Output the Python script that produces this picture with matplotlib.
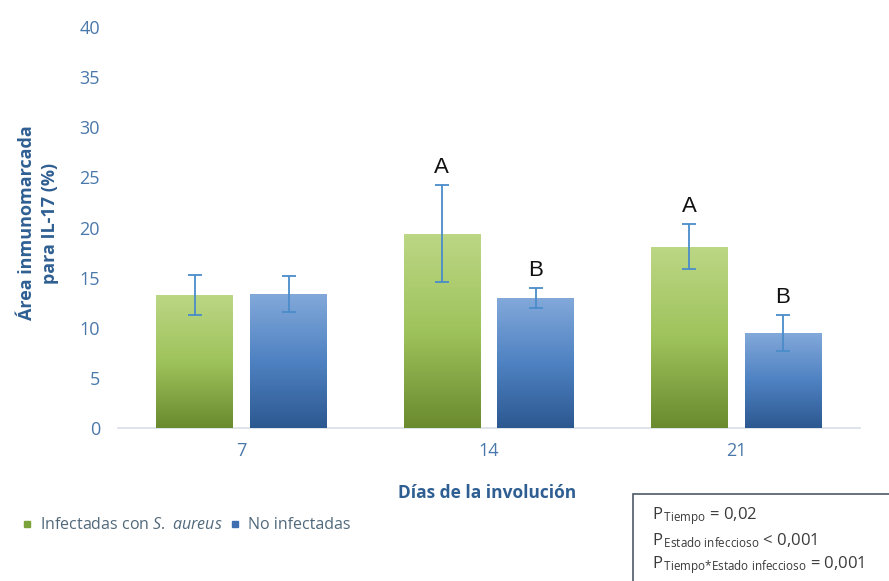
import numpy as np
import matplotlib
matplotlib.use("Agg")
import matplotlib.pyplot as plt
from matplotlib.colors import LinearSegmentedColormap
from matplotlib.lines import Line2D
from matplotlib.patches import Rectangle

plt.rcParams['font.family'] = ['Open Sans', 'DejaVu Sans']
plt.rcParams['mathtext.fontset'] = 'custom'
plt.rcParams['mathtext.rm'] = 'Open Sans'
plt.rcParams['mathtext.it'] = 'Open Sans:italic'

# data
days = ["7", "14", "21"]
infectadas = [13.3, 19.4, 18.1]
infectadas_err = [2.0, 4.8, 2.25]
no_infectadas = [13.4, 13.0, 9.5]
no_infectadas_err = [1.8, 1.0, 1.8]
letters_inf = ["", "A", "A"]
letters_no = ["", "B", "B"]

axis_blue = "#4a78ab"
title_blue = "#2f5f92"

fig = plt.figure(figsize=(8.89, 5.81), dpi=100)
ax = fig.add_axes([0.1327, 0.2633, 0.8343, 0.6902])

x = np.arange(len(days))
w = 0.31
off = 0.19

green_cmap = LinearSegmentedColormap.from_list("g", ["#6a8a2e", "#9fc35c", "#bcd785"])
blue_cmap = LinearSegmentedColormap.from_list("b", ["#2c5890", "#4f82c2", "#83a9da"])

bars_inf = ax.bar(x - off, infectadas, w, color="#9fc35c", zorder=2)
bars_no = ax.bar(x + off, no_infectadas, w, color="#4f82c2", zorder=2)

# vertical gradient inside each bar
grad = np.linspace(0, 1, 256).reshape(-1, 1)
for bars, cmap in [(bars_inf, green_cmap), (bars_no, blue_cmap)]:
    for b in bars:
        x0, y0 = b.get_x(), b.get_y()
        x1, y1 = x0 + b.get_width(), y0 + b.get_height()
        im = ax.imshow(grad, cmap=cmap, origin="lower", aspect="auto",
                       extent=[x0, x1, y0, y1], zorder=3)
        im.set_clip_path(b)

ax.errorbar(x - off, infectadas, yerr=infectadas_err, fmt="none",
            ecolor="#4a8cc9", elinewidth=1.3, capsize=5, capthick=1.3, zorder=4)
ax.errorbar(x + off, no_infectadas, yerr=no_infectadas_err, fmt="none",
            ecolor="#4a8cc9", elinewidth=1.3, capsize=5, capthick=1.3, zorder=4)

for i in range(len(days)):
    if letters_inf[i]:
        ax.text(x[i] - off, infectadas[i] + infectadas_err[i] + 0.7, letters_inf[i],
                ha="center", va="bottom", fontsize=16, family="Liberation Sans", color="#111111")
    if letters_no[i]:
        ax.text(x[i] + off, no_infectadas[i] + no_infectadas_err[i] + 0.7, letters_no[i],
                ha="center", va="bottom", fontsize=16, family="Liberation Sans", color="#111111")

ax.set_xlim(-0.5, 2.5)
ax.set_ylim(0, 40)
ax.set_yticks(range(0, 41, 5))
ax.set_xticks(x)
ax.set_xticklabels(days)
ax.tick_params(axis="both", length=0, labelsize=13, labelcolor=axis_blue)
ax.tick_params(axis="y", pad=13)
ax.tick_params(axis="x", pad=10)
for s in ["top", "right", "left"]:
    ax.spines[s].set_visible(False)
ax.spines["bottom"].set_color("#d9dfe8")
ax.spines["bottom"].set_linewidth(1.2)

fig.text(0.043, 0.616, "Área inmunomarcada\npara IL-17 (%)", rotation=90,
         ha="center", va="center", fontsize=13, fontweight="bold",
         color=title_blue, linespacing=1.35)
fig.text(0.548, 0.151, "Días de la involución", ha="center", va="center",
         fontsize=12.5, fontweight="bold", color=title_blue)

handles = [Line2D([], [], marker="s", ls="none", color="#7aa33c", markersize=5),
           Line2D([], [], marker="s", ls="none", color="#3f6fb0", markersize=5)]
fig.legend(handles, [r"Infectadas con $\it{S.\ aureus}$", "No infectadas"],
           loc="center left", bbox_to_anchor=(0.005, 0.096), ncol=2, frameon=False,
           fontsize=11.5, handletextpad=0.3, columnspacing=0.3, handlelength=1.0,
           labelcolor="#51697a")

fig.patches.append(Rectangle((633 / 889, -0.02), 0.3, 1 - 494 / 581 + 0.02,
                             transform=fig.transFigure, fill=False,
                             edgecolor="#4d5a66", linewidth=1.2))
ptxt = [r"P$_{\,\mathrm{Tiempo}}$ = 0,02",
        r"P$_{\,\mathrm{Estado\ infeccioso}}$ < 0,001",
        r"P$_{\,\mathrm{Tiempo{*}Estado\ infeccioso}}$ = 0,001"]
for k, t in enumerate(ptxt):
    fig.text(652 / 889, 1 - (516 + 24.5 * k) / 581, t, ha="left", va="center",
             fontsize=12, color="#3a3a3a")

fig.savefig("out.png", dpi=100)
